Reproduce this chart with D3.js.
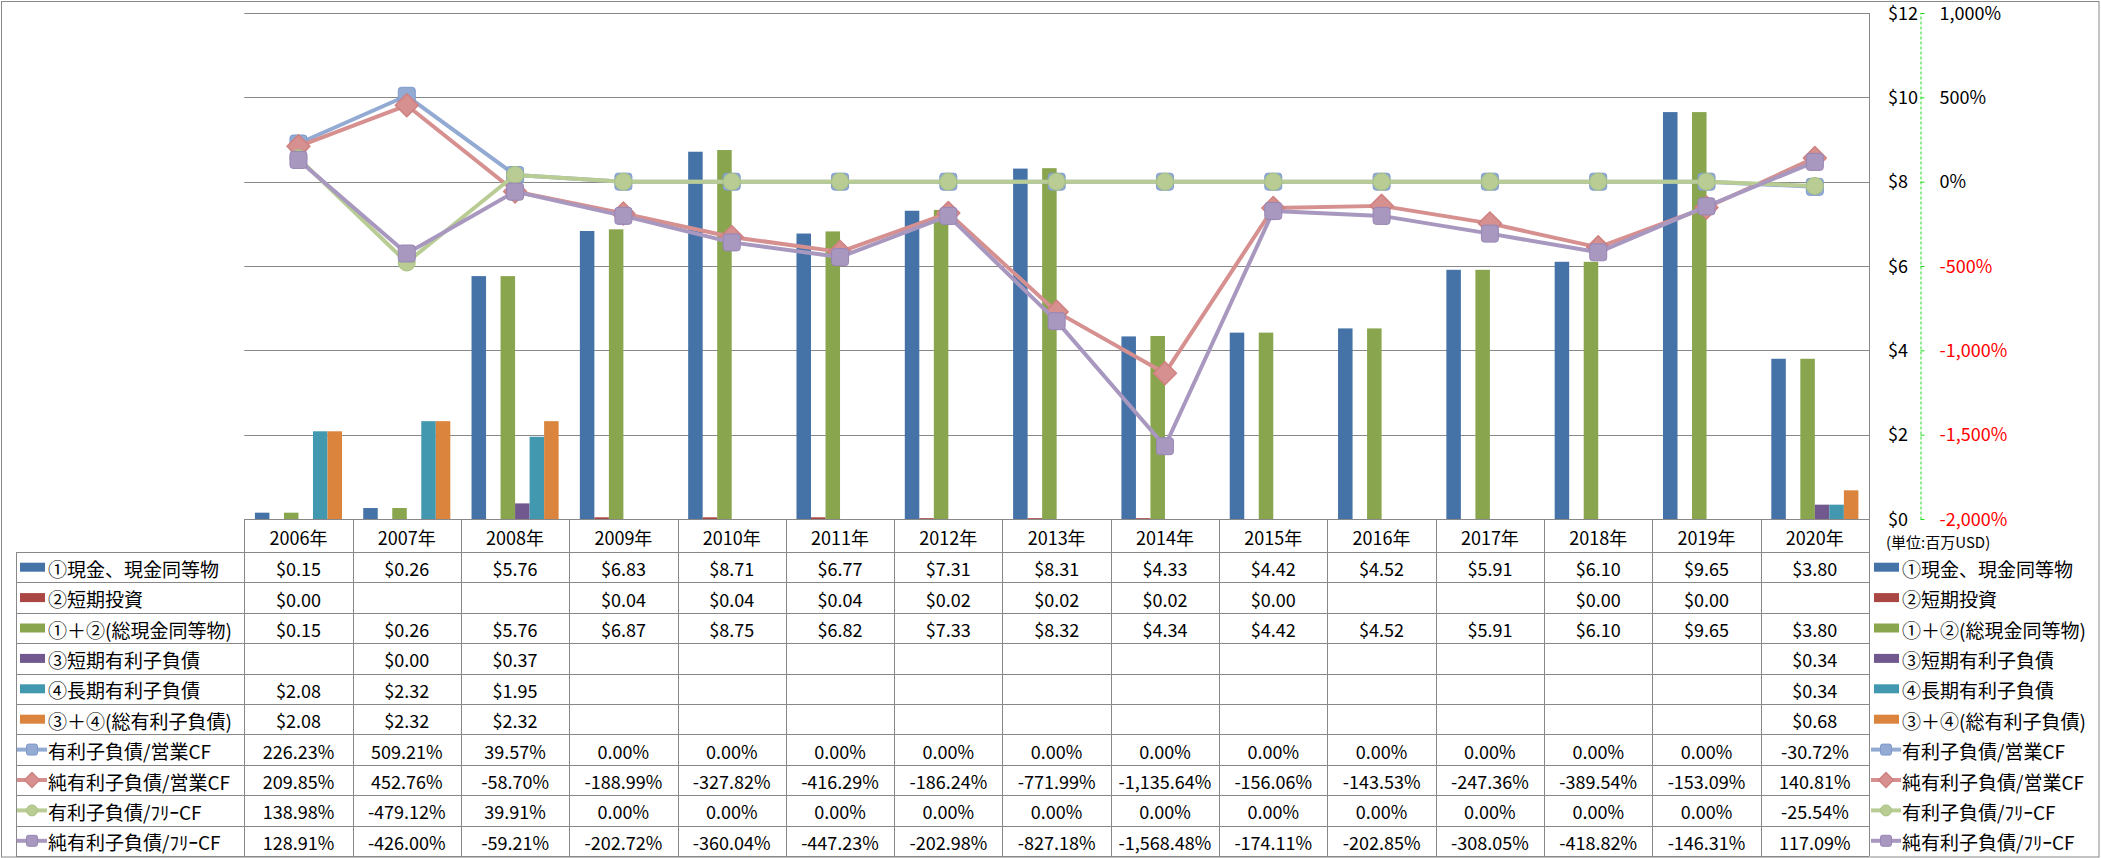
<!DOCTYPE html>
<html>
<head>
<meta charset="utf-8">
<script src="https://cdn.jsdelivr.net/npm/d3@7"></script>
<style>
  html, body { margin: 0; padding: 0; background: #fff; }
  svg { display: block; font-family: "Noto Sans CJK JP", "Noto Sans", sans-serif; }
</style>
</head>
<body>
<script>
// ---------------- DATA ----------------
const years = ["2006年","2007年","2008年","2009年","2010年","2011年","2012年","2013年","2014年","2015年","2016年","2017年","2018年","2019年","2020年"];
const cash       = [0.15, 0.26, 5.76, 6.83, 8.71, 6.77, 7.31, 8.31, 4.33, 4.42, 4.52, 5.91, 6.10, 9.65, 3.80];
const shortInv   = [0.00, null, null, 0.04, 0.04, 0.04, 0.02, 0.02, 0.02, 0.00, null, null, 0.00, 0.00, null];
const totalCash  = [0.15, 0.26, 5.76, 6.87, 8.75, 6.82, 7.33, 8.32, 4.34, 4.42, 4.52, 5.91, 6.10, 9.65, 3.80];
const shortDebt  = [null, 0.00, 0.37, null, null, null, null, null, null, null, null, null, null, null, 0.34];
const longDebt   = [2.08, 2.32, 1.95, null, null, null, null, null, null, null, null, null, null, null, 0.34];
const totalDebt  = [2.08, 2.32, 2.32, null, null, null, null, null, null, null, null, null, null, null, 0.68];
const debtOCF    = [226.23, 509.21, 39.57, 0, 0, 0, 0, 0, 0, 0, 0, 0, 0, 0, -30.72];
const netDebtOCF = [209.85, 452.76, -58.70, -188.99, -327.82, -416.29, -186.24, -771.99, -1135.64, -156.06, -143.53, -247.36, -389.54, -153.09, 140.81];
const debtFCF    = [138.98, -479.12, 39.91, 0, 0, 0, 0, 0, 0, 0, 0, 0, 0, 0, -25.54];
const netDebtFCF = [128.91, -426.00, -59.21, -202.72, -360.04, -447.23, -202.98, -827.18, -1568.48, -174.11, -202.85, -308.05, -418.82, -146.31, 117.09];

const barNames  = ["①現金、現金同等物","②短期投資","①＋②(総現金同等物)","③短期有利子負債","④長期有利子負債","③＋④(総有利子負債)"];
const lineNames = ["有利子負債/営業CF","純有利子負債/営業CF","有利子負債/ﾌﾘｰCF","純有利子負債/ﾌﾘｰCF"];
const moneyTicks = [0, 2, 4, 6, 8, 10, 12];
const pctTicks   = [-2000, -1500, -1000, -500, 0, 500, 1000];
const unitLabel  = "(単位:百万USD)";

// ---------------- STYLE ----------------
const barColors  = ["#4572A7","#AA4643","#89A54E","#71588F","#4198AF","#DB843D"];
const lineColors = ["#93AAD3","#D5908F","#B8CC94","#A898C0"];
const markerStroke = ["#7F9BCB","#CF8180","#A9C282","#9886B4"];
const markerShapes = ["square","diamond","circle","square"];
const gridColor = "#888888";

const barSeries  = [cash, shortInv, totalCash, shortDebt, longDebt, totalDebt];
const lineSeries = [debtOCF, netDebtOCF, debtFCF, netDebtFCF];

const W = 2101, H = 858;
const plotL = 244.3, plotR = 1869, plotT = 13, plotB = 519;
const headerH = 33, rowH = 30.4;
const labelL = 16;

const loc = d3.formatLocale({decimal: ".", thousands: ",", grouping: [3], currency: ["$", ""], minus: "-"});
const fmtMoney = loc.format("$,.2f");
const fmtPctV = v => loc.format(",.2f")(v) + "%";
const fmtAxisMoney = loc.format("$,.0f");
const fmtAxisPct = v => loc.format(",")(v) + "%";

const svg = d3.select("body").append("svg").attr("width", W).attr("height", H);

// outer border
svg.append("rect").attr("x", 1.5).attr("y", 1.5).attr("width", 2097.5).attr("height", 855.5)
  .attr("fill", "#fff").attr("stroke", gridColor).attr("stroke-width", 1);

// scales
const x0 = d3.scaleBand().domain(years).range([plotL, plotR]).padding(0);
const bw = x0.bandwidth();
const x1 = d3.scaleBand().domain(d3.range(6)).range([bw * 0.098, bw * 0.902]).padding(0);
const y  = d3.scaleLinear().domain([0, 12]).range([plotB, plotT]);
const y2 = d3.scaleLinear().domain([-2000, 1000]).range([plotB, plotT]);

// gridlines
svg.append("g").selectAll("line").data(moneyTicks).join("line")
  .attr("x1", plotL).attr("x2", plotR)
  .attr("y1", d => Math.round(y(d)) + 0.5).attr("y2", d => Math.round(y(d)) + 0.5)
  .attr("stroke", gridColor).attr("stroke-width", 1);
// right plot border
svg.append("line").attr("x1", plotR + 0.5).attr("x2", plotR + 0.5).attr("y1", plotT).attr("y2", plotB)
  .attr("stroke", gridColor);

// bars
const barG = svg.append("g");
barSeries.forEach((ser, si) => {
  barG.append("g").selectAll("rect")
    .data(ser.map((v, i) => ({v, i})).filter(d => d.v !== null && d.v > 0))
    .join("rect")
    .attr("x", d => x0(years[d.i]) + x1(si))
    .attr("width", x1.bandwidth())
    .attr("y", d => y(d.v))
    .attr("height", d => y(0) - y(d.v))
    .attr("fill", barColors[si]);
});

// marker drawing
function drawMarker(g, shape, cx, cy, size, fill, stroke) {
  const h = size / 2;
  if (shape === "square") {
    g.append("rect").attr("x", cx - h).attr("y", cy - h).attr("width", size).attr("height", size)
      .attr("rx", size * 0.18).attr("fill", fill).attr("stroke", stroke).attr("stroke-width", 1);
  } else if (shape === "diamond") {
    const d = h * 1.35;
    g.append("path").attr("d", `M${cx},${cy - d}L${cx + d},${cy}L${cx},${cy + d}L${cx - d},${cy}Z`)
      .attr("fill", fill).attr("stroke", stroke).attr("stroke-width", 1.5).attr("stroke-linejoin", "round");
  } else {
    g.append("circle").attr("cx", cx).attr("cy", cy).attr("r", h)
      .attr("fill", fill).attr("stroke", stroke).attr("stroke-width", 1);
  }
}

// lines
const lineGen = d3.line().x((d, i) => x0(years[i]) + bw / 2).y(d => y2(d));
const lineG = svg.append("g");
lineSeries.forEach((ser, si) => {
  const g = lineG.append("g");
  g.append("path").datum(ser).attr("d", lineGen)
    .attr("fill", "none").attr("stroke", lineColors[si]).attr("stroke-width", 4)
    .attr("stroke-linejoin", "round");
  ser.forEach((v, i) => drawMarker(g, markerShapes[si], x0(years[i]) + bw / 2, y2(v), 17, lineColors[si], markerStroke[si]));
});

// right axes
const axisMoney = d3.axisRight(y).tickValues(moneyTicks).tickFormat(fmtAxisMoney).tickSize(0).tickPadding(0);
const gM = svg.append("g").attr("transform", `translate(1888,0)`).call(axisMoney);
gM.select(".domain").remove();
gM.selectAll("text").attr("font-size", 18).attr("fill", "#000")
  .attr("font-family", '"Noto Sans CJK JP", sans-serif').attr("text-anchor", "start").attr("dy", "0.35em");

const axisPct = d3.axisRight(y2).tickValues(pctTicks).tickFormat(fmtAxisPct).tickSize(4).tickSizeOuter(0).tickPadding(15);
const gP = svg.append("g").attr("transform", `translate(1920.5,0)`).call(axisPct);
gP.select(".domain").attr("stroke", "#22DD22").attr("stroke-dasharray", "3,2").attr("stroke-width", 1);
gP.selectAll(".tick line").attr("stroke", "#22DD22");
gP.selectAll("text").attr("font-size", 18)
  .attr("font-family", '"Noto Sans CJK JP", sans-serif').attr("dy", "0.35em")
  .attr("fill", d => d < 0 ? "#FF0000" : "#000");

// unit label
svg.append("text").attr("x", 1886).attr("y", 541).attr("font-size", 15).attr("dominant-baseline", "central")
  .attr("fill", "#000").text(unitLabel);

// ---------------- TABLE ----------------
const tbl = svg.append("g");
const rowTop = plotB + headerH;
const nRows = 10;
const tblBottom = rowTop + nRows * rowH;

// header year labels
tbl.selectAll("text.yr").data(years).join("text").attr("class", "yr")
  .attr("x", d => x0(d) + bw / 2).attr("y", plotB + headerH / 2 + 1)
  .attr("text-anchor", "middle").attr("dominant-baseline", "central")
  .attr("font-size", 18).attr("fill", "#000").text(d => d);

// horizontal lines
d3.range(nRows + 1).forEach(i => {
  const yy = Math.round(rowTop + i * rowH) + 0.5;
  tbl.append("line").attr("x1", labelL).attr("x2", plotR).attr("y1", yy).attr("y2", yy)
    .attr("stroke", gridColor);
});
// vertical lines
years.forEach(yv => {
  const xx = Math.round(x0(yv)) + 0.5;
  tbl.append("line").attr("x1", xx).attr("x2", xx).attr("y1", plotB).attr("y2", tblBottom)
    .attr("stroke", gridColor);
});
tbl.append("line").attr("x1", plotR + 0.5).attr("x2", plotR + 0.5).attr("y1", plotB).attr("y2", tblBottom).attr("stroke", gridColor);
tbl.append("line").attr("x1", labelL + 0.5).attr("x2", labelL + 0.5).attr("y1", rowTop).attr("y2", tblBottom).attr("stroke", gridColor);

// rows
const rows = barNames.map((n, i) => ({name: n, kind: "bar", idx: i, data: barSeries[i]}))
  .concat(lineNames.map((n, i) => ({name: n, kind: "line", idx: i, data: lineSeries[i]})));

function legendKey(g, r, kx, cy) {
  if (r.kind === "bar") {
    g.append("rect").attr("x", kx).attr("y", cy - 4.5).attr("width", 25).attr("height", 9).attr("fill", barColors[r.idx]);
  } else {
    g.append("line").attr("x1", kx - 3).attr("x2", kx + 27).attr("y1", cy).attr("y2", cy)
      .attr("stroke", lineColors[r.idx]).attr("stroke-width", 4);
    drawMarker(g, markerShapes[r.idx], kx + 12, cy, 11, lineColors[r.idx], markerStroke[r.idx]);
  }
}

rows.forEach((r, ri) => {
  const cy = rowTop + ri * rowH + rowH / 2;
  // left label
  legendKey(tbl, r, 20, cy);
  tbl.append("text").attr("x", 48).attr("y", cy + 1).attr("dominant-baseline", "central")
    .attr("font-size", 19).attr("fill", "#000").text(r.name);
  // right legend
  legendKey(tbl, r, 1874, cy);
  tbl.append("text").attr("x", 1902).attr("y", cy + 1).attr("dominant-baseline", "central")
    .attr("font-size", 19).attr("fill", "#000").text(r.name);
  // values
  tbl.append("g").selectAll("text").data(r.data.map((v, i) => ({v, i})).filter(d => d.v !== null))
    .join("text")
    .attr("x", d => x0(years[d.i]) + bw / 2).attr("y", cy + 1)
    .attr("text-anchor", "middle").attr("dominant-baseline", "central")
    .attr("font-size", 18).attr("fill", "#000")
    .text(d => r.kind === "bar" ? fmtMoney(d.v) : fmtPctV(d.v));
});
</script>
</body>
</html>
